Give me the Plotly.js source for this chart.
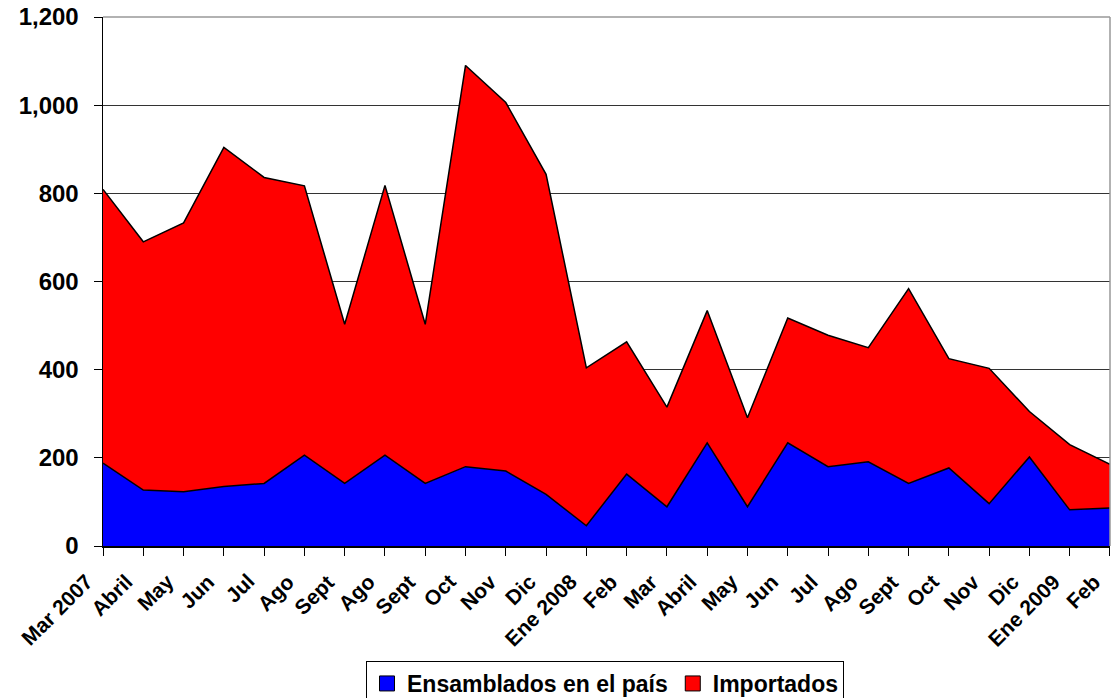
<!DOCTYPE html>
<html>
<head>
<meta charset="utf-8">
<script src="https://cdn.plot.ly/plotly-3.0.1.min.js"></script>
<style>html,body{margin:0;padding:0;background:#fff;}#chart{width:1118px;height:698px;}</style>
</head>
<body>
<div id="chart"></div>
<script>
const categories = ['Mar 2007','Abril','May','Jun','Jul','Ago','Sept','Ago','Sept','Oct','Nov','Dic','Ene 2008','Feb','Mar','Abril','May','Jun','Jul','Ago','Sept','Oct','Nov','Dic','Ene 2009','Feb'];
const ensamblados = [188,127,123,135,142,206,142,206,142,180,170,117,46,163,89,234,89,234,180,191,142,177,96,202,82,86];
const importados = [621,563,610,769,694,611,361,612,361,910,836,726,358,300,226,300,202,283,298,259,442,248,307,103,148,99];
const yTicks = [0,200,400,600,800,1000,1200];
const seriesNames = ['Ensamblados en el país','Importados'];
const seriesColors = ['#0000FF','#FF0000'];

const idx = categories.map((_, i) => i);
const font = 'Liberation Sans, Arial, sans-serif';

const traces = [
  {x: idx, y: ensamblados, type: 'scatter', mode: 'lines', stackgroup: 'one', fill: 'tozeroy',
   fillcolor: seriesColors[0], line: {color: '#000', width: 1.5}, name: seriesNames[0], showlegend: false},
  {x: idx, y: importados, type: 'scatter', mode: 'lines', stackgroup: 'one', fill: 'tonexty',
   fillcolor: seriesColors[1], line: {color: '#000', width: 1.5}, name: seriesNames[1], showlegend: false},
  {x: [null], y: [null], type: 'scatter', mode: 'markers', name: seriesNames[0],
   marker: {symbol: 'square', size: 15, color: seriesColors[0], line: {color: '#000', width: 1}}},
  {x: [null], y: [null], type: 'scatter', mode: 'markers', name: seriesNames[1],
   marker: {symbol: 'square', size: 15, color: seriesColors[1], line: {color: '#000', width: 1}}}
];

const xLabelAnnotations = categories.map((c, i) => ({
  x: idx[i], y: 0, xref: 'x', yref: 'y', text: c, showarrow: false,
  textangle: -45, xanchor: 'right', yanchor: 'top', xshift: -3, yshift: -21,
  font: {family: font, size: 21, color: '#000', weight: 'bold'}
}));

const layout = {
  width: 1118, height: 698,
  margin: {l: 103, r: 8, t: 17, b: 152, autoexpand: false},
  paper_bgcolor: '#fff', plot_bgcolor: '#fff',
  showlegend: true,
  legend: {orientation: 'h', x: 605 / 1118, xanchor: 'center', xref: 'container', y: (698 - 661) / 698, yref: 'container', yanchor: 'top',
           bordercolor: '#000', borderwidth: 1, bgcolor: '#fff', traceorder: 'normal',
           font: {family: font, size: 23, color: '#000', weight: 'bold'},
           itemwidth: 30, tracegroupgap: 0},
  xaxis: {
    range: [-0.0005, categories.length - 1 + 0.0005], tickmode: 'array', tickvals: idx, showticklabels: false,
    ticks: 'outside', ticklen: 8, tickcolor: '#000', tickwidth: 1, automargin: false,
    showline: true, linecolor: '#000', linewidth: 1.5, showgrid: false, zeroline: false, fixedrange: true
  },
  yaxis: {
    range: [0, 1200], tickmode: 'array', tickvals: yTicks, tickformat: ',d', automargin: false,
    ticks: 'outside', ticklen: 8, tickcolor: '#000', tickwidth: 1, ticklabelstandoff: 10,
    showline: true, linecolor: '#000', linewidth: 1.5, showgrid: true, gridcolor: '#333', gridwidth: 1,
    zeroline: false, tickfont: {family: font, size: 24, color: '#000', weight: 'bold'}, fixedrange: true
  },
  annotations: xLabelAnnotations,
  shapes: [
    {type: 'line', xref: 'paper', yref: 'paper', x0: 0, x1: 1, y0: 1, y1: 1, line: {color: '#999', width: 1.5}},
    {type: 'line', xref: 'paper', yref: 'paper', x0: 1, x1: 1, y0: 0, y1: 1, line: {color: '#999', width: 1.5}}
  ]
};

Plotly.newPlot('chart', traces, layout, {displayModeBar: false, staticPlot: true});
</script>
</body>
</html>
